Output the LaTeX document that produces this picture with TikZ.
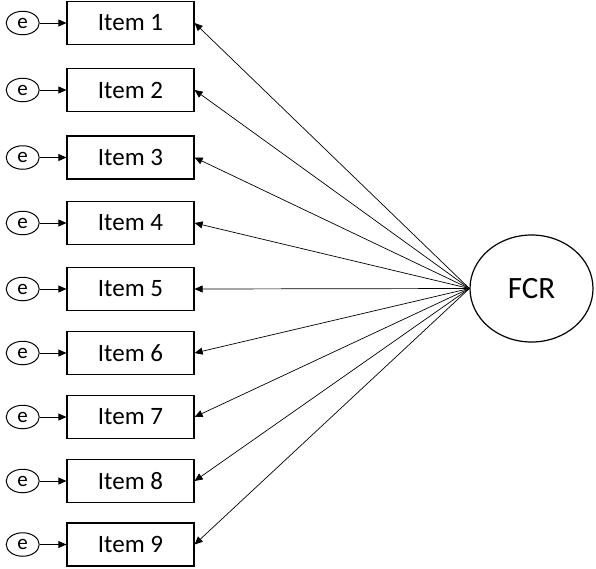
\documentclass[tikz,border=0pt]{standalone}
\usepackage{fontspec}
\setmainfont{Carlito}
\usetikzlibrary{arrows.meta,shapes.geometric}
\begin{document}
\begin{tikzpicture}[x=1pt,y=-1pt,
 itembox/.style={draw,line width=1.2pt,minimum width=127pt,minimum height=43pt,inner sep=0pt,font=\fontsize{25}{30}\selectfont},
 errnode/.style={draw,ellipse,line width=1pt,minimum width=33pt,minimum height=23.5pt,inner sep=0pt,font=\fontsize{21}{26}\selectfont},
 latent/.style={draw,ellipse,line width=1.2pt,minimum width=123pt,minimum height=107pt,inner sep=0pt,font=\fontsize{31}{36}\selectfont},
 link/.style={line width=0.7pt,-{Triangle[length=8pt,width=7pt]}}]
\useasboundingbox (0,0) rectangle (596,568);
\node[latent] (fcr) at (531.5,288.5) {FCR};
\foreach \i/\y in {1/23,2/90,3/157.5,4/223,5/289,6/353,7/417,8/481,9/544.5}{
 \node[itembox] (item\i) at (130.5,\y) {Item \i};
 \node[errnode] (e\i) at (22.7,\y) {e};
 \draw[link] (e\i) -- (item\i);
 \draw[link] (fcr.west) -- (item\i.east);
}
\end{tikzpicture}
\end{document}
